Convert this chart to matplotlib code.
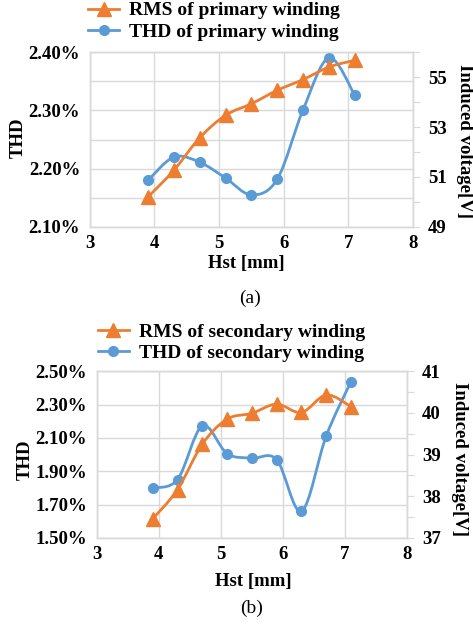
import numpy as np
import matplotlib
matplotlib.use('Agg')
import matplotlib.pyplot as plt
from matplotlib.path import Path
from matplotlib.patches import PathPatch
from matplotlib.ticker import FuncFormatter

plt.rcParams['font.family'] = ['Liberation Serif', 'DejaVu Serif']
plt.rcParams['font.weight'] = 'bold'

# Hst [mm] sample points
hst = [3.9, 4.3, 4.7, 5.1, 5.5, 5.9, 6.3, 6.7, 7.1]

# (a) primary winding
thd_primary = [2.180, 2.220, 2.211, 2.184, 2.155, 2.182, 2.301, 2.390, 2.326]   # %
rms_primary = [50.20, 51.27, 52.57, 53.47, 53.93, 54.47, 54.90, 55.40, 55.67]   # V

# (b) secondary winding
thd_secondary = [1.800, 1.850, 2.172, 2.006, 1.978, 1.970, 1.660, 2.112, 2.438]  # %
rms_secondary = [37.46, 38.16, 39.25, 39.85, 39.99, 40.21, 40.01, 40.43, 40.15]  # V

ORANGE = '#ED7D31'
BLUE = '#5B9BD5'
GRID = '#D9D9D9'


def smooth_path(x, y):
    # cubic bezier through every point (catmull-rom style tangents)
    x = np.asarray(x, float)
    y = np.asarray(y, float)
    n = len(x)
    verts = [(x[0], y[0])]
    codes = [Path.MOVETO]
    for i in range(n - 1):
        i0 = max(i - 1, 0)
        i3 = min(i + 2, n - 1)
        c1 = (x[i] + (x[i + 1] - x[i0]) / 6, y[i] + (y[i + 1] - y[i0]) / 6)
        c2 = (x[i + 1] - (x[i3] - x[i]) / 6, y[i + 1] - (y[i3] - y[i]) / 6)
        verts += [c1, c2, (x[i + 1], y[i + 1])]
        codes += [Path.CURVE4] * 3
    return Path(verts, codes)


def draw_series(ax, x, y, color, marker, ms, label):
    ax.add_patch(PathPatch(smooth_path(x, y), fill=False, edgecolor=color,
                           lw=2.0, zorder=3))
    ax.plot(x, y, ls='none', marker=marker, ms=ms, color=color, zorder=4)
    # legend handle: line with marker
    return ax.plot([], [], color=color, lw=2.0, marker=marker, ms=ms, label=label)[0]


def panel(rect, thd, rms, thd_lim, thd_step, thd_fmt, v_lim, v_ticks, v_labeled,
          name, lab_pos, leg_anchor, tag, tag_pos):
    ax = fig.add_axes(rect)
    ax2 = ax.twinx()

    h_thd = draw_series(ax, hst, thd, BLUE, 'o', 7, 'THD of ' + name)
    h_rms = draw_series(ax2, hst, rms, ORANGE, '^', 10, 'RMS of ' + name)
    # orange curve stays on top of the blue one where they cross
    ax2.set_zorder(ax.get_zorder() + 1)
    ax2.patch.set_visible(False)
    ax.patch.set_facecolor('white')

    ax.set_xlim(3, 8)
    ax.set_xticks([3, 4, 5, 6, 7, 8])
    ax.set_ylim(*thd_lim)
    ax.set_yticks(np.arange(thd_lim[0], thd_lim[1] + 1e-9, thd_step))
    ax.yaxis.set_major_formatter(FuncFormatter(lambda v, p: thd_fmt(v)))
    ax.grid(True, color=GRID, lw=1.0)
    ax.set_axisbelow(True)
    ax.tick_params(axis='both', length=0, labelsize=13.5)
    ax.tick_params(axis='x', pad=6)
    ax.tick_params(axis='y', pad=7)

    ax2.set_ylim(*v_lim)
    ax2.set_yticks(v_ticks)
    ax2.set_yticklabels([('%d' % t if t in v_labeled else '') for t in v_ticks])
    ax2.tick_params(axis='y', length=5, color=GRID, labelsize=13.5, pad=6)

    for a in (ax, ax2):
        for s in a.spines.values():
            s.set_color(GRID)
            s.set_linewidth(1.0)

    ax.text(lab_pos[0][0], lab_pos[0][1], 'THD', transform=ax.transAxes,
            rotation=90, ha='center', va='center', fontsize=13.5)
    ax.text(lab_pos[1][0], lab_pos[1][1], 'Hst [mm]', transform=ax.transAxes,
            ha='center', va='center', fontsize=13.5)
    ax.text(lab_pos[2][0], lab_pos[2][1], 'Induced voltage[V]', transform=ax.transAxes,
            rotation=270, ha='center', va='center', fontsize=13.5)

    fig.legend(handles=[h_rms, h_thd], loc='upper left', bbox_to_anchor=leg_anchor,
               frameon=False, fontsize=14, handlelength=1.6, handletextpad=0.5,
               labelspacing=0.2, borderpad=0, borderaxespad=0)
    fig.text(tag_pos[0], tag_pos[1], tag, ha='center', va='center',
             fontsize=14, fontweight='normal')
    return ax, ax2


fig = plt.figure(figsize=(4.73, 6.27), dpi=100)

panel([0.190, 0.638, 0.683, 0.279], thd_primary, rms_primary,
      (2.10, 2.40), 0.05,
      lambda v: ('%.2f%%' % v) if abs(round(v * 10) - v * 10) < 1e-6 else '',
      (49, 56), [49, 50, 51, 52, 53, 54, 55, 56], [49, 51, 53, 55],
      'primary winding',
      [(-0.223, 0.51), (0.483, -0.206), (1.161, 0.49)],
      (0.186, 0.997), '(a)', (0.528, 0.524))

panel([0.205, 0.142, 0.655, 0.266], thd_secondary, rms_secondary,
      (1.50, 2.50), 0.20,
      lambda v: '%.2f%%' % v,
      (37, 41), [37, 37.5, 38, 38.5, 39, 39.5, 40, 40.5, 41], [37, 38, 39, 40, 41],
      'secondary winding',
      [(-0.232, 0.467), (0.506, -0.263), (1.171, 0.473)],
      (0.207, 0.485), '(b)', (0.532, 0.030))

fig.savefig('out.png', dpi=100)
